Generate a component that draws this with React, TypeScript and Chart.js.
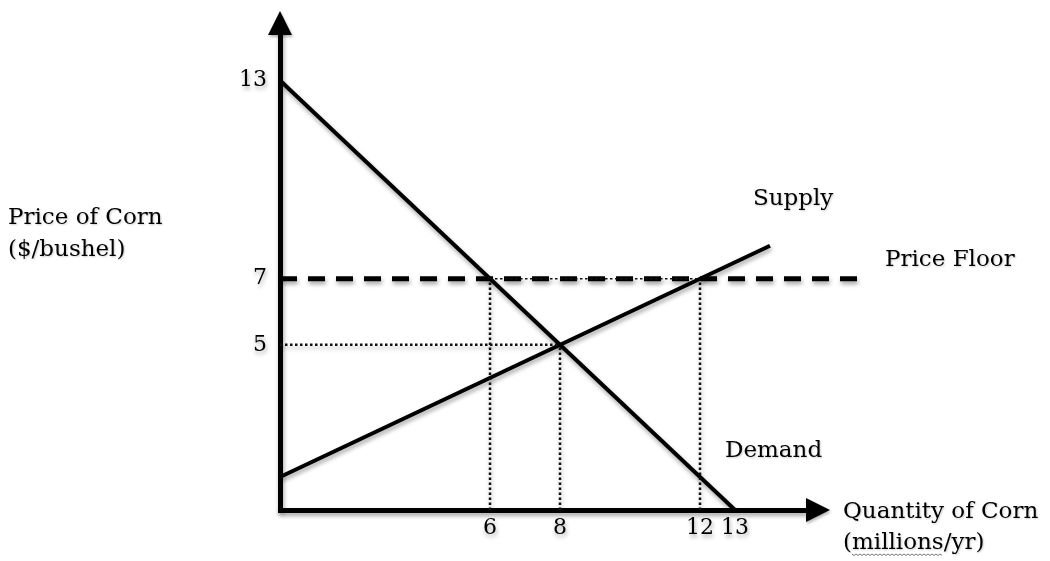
import React, { useEffect, useRef } from "react";
import { Chart, registerables } from "chart.js";

Chart.register(...registerables);

// ---- data ----
const xTickValues = [6, 8, 12, 13];
const yTickValues = [5, 7, 13];
const demandQ = [0, 13];
const demandP = [13, 0];
const supplyQ = [0, 14];
const supplyP = [1, 8];
const floorQ = [0, 16.8];
const floorPrice = 7;
const equilibriumQ = 8;
const equilibriumP = 5;
const quantityDemandedAtFloor = 6;
const quantitySuppliedAtFloor = 12;
const xMax = 15;
const yMax = 14.5;

const FONT = '"DejaVu Serif", serif';

const toPoints = (xs: number[], ys: number[]) => xs.map((x, i) => ({ x, y: ys[i] }));

const guideStyle = {
  borderColor: "#111",
  borderWidth: 2.5,
  borderDash: [2.5, 2.5],
  showLine: true,
  pointRadius: 0,
  fill: false,
};

const shadowPlugin = {
  id: "shadowPlugin",
  beforeDraw(chart: any) {
    const c = chart.ctx;
    c.save();
    c.shadowColor = "rgba(0,0,0,0.35)";
    c.shadowBlur = 4;
    c.shadowOffsetX = 1;
    c.shadowOffsetY = 3;
  },
  afterDatasetsDraw(chart: any) {
    chart.ctx.restore();
  },
};

const annotationPlugin = {
  id: "annotationPlugin",
  afterDraw(chart: any) {
    const c = chart.ctx;
    const xs = chart.scales.x;
    const ys = chart.scales.y;
    const x0 = xs.getPixelForValue(0);
    const y0 = ys.getPixelForValue(0);
    const { top, right } = chart.chartArea;
    c.save();
    c.shadowColor = "rgba(0,0,0,0.3)";
    c.shadowBlur = 3;
    c.shadowOffsetX = 1;
    c.shadowOffsetY = 2;
    c.fillStyle = "#000";
    // y-axis arrow
    c.beginPath();
    c.moveTo(x0, top - 20);
    c.lineTo(x0 - 12, top + 4);
    c.lineTo(x0 + 12, top + 4);
    c.closePath();
    c.fill();
    // x-axis arrow
    c.beginPath();
    c.moveTo(right + 25, y0);
    c.lineTo(right + 1, y0 - 12);
    c.lineTo(right + 1, y0 + 12);
    c.closePath();
    c.fill();

    c.shadowColor = "rgba(0,0,0,0.2)";
    c.shadowBlur = 2;
    c.shadowOffsetX = 1;
    c.shadowOffsetY = 1;
    c.fillStyle = "#000";
    c.font = `23px ${FONT}`;
    c.textAlign = "left";
    c.textBaseline = "alphabetic";
    c.fillText("Price of Corn", 8, 224);
    c.fillText("($/bushel)", 8, 256);
    c.fillText("Supply", 753, 205);
    c.fillText("Price Floor", 885, 266);
    c.fillText("Demand", 725, 457);
    c.fillText("Quantity of Corn", 843, 518);
    c.fillText("(millions/yr)", 843, 549);
    // spell-check style underline under "millions"
    const pw = c.measureText("(").width;
    const mw = c.measureText("millions").width;
    c.shadowColor = "transparent";
    c.strokeStyle = "#777";
    c.lineWidth = 1;
    c.beginPath();
    for (let i = 0; i <= mw; i += 2) {
      const yy = 554 + (i % 4 === 0 ? 0 : 1.5);
      if (i === 0) c.moveTo(843 + pw + i, yy);
      else c.lineTo(843 + pw + i, yy);
    }
    c.stroke();
    c.restore();
  },
};

export default function App() {
  const ref = useRef<HTMLCanvasElement | null>(null);

  useEffect(() => {
    if (!ref.current) return;
    const chart = new Chart(ref.current, {
      type: "scatter",
      data: {
        datasets: [
          {
            label: "Floor Q dotted",
            data: toPoints([quantityDemandedAtFloor, quantitySuppliedAtFloor], [floorPrice, floorPrice]),
            ...guideStyle,
            borderWidth: 1.5,
          },
          {
            label: "Price Floor",
            data: toPoints(floorQ, [floorPrice, floorPrice]),
            borderColor: "#000",
            borderWidth: 5,
            borderDash: [17, 11],
            showLine: true,
            pointRadius: 0,
            clip: false,
          },
          {
            label: "Qd guide",
            data: toPoints([quantityDemandedAtFloor, quantityDemandedAtFloor], [0, floorPrice]),
            ...guideStyle,
          },
          {
            label: "Qs guide",
            data: toPoints([quantitySuppliedAtFloor, quantitySuppliedAtFloor], [0, floorPrice]),
            ...guideStyle,
          },
          {
            label: "Eq Q guide",
            data: toPoints([equilibriumQ, equilibriumQ], [0, equilibriumP]),
            ...guideStyle,
          },
          {
            label: "Eq P guide",
            data: toPoints([0, equilibriumQ], [equilibriumP, equilibriumP]),
            ...guideStyle,
          },
          {
            label: "Demand",
            data: toPoints(demandQ, demandP),
            borderColor: "#000",
            borderWidth: 4,
            showLine: true,
            pointRadius: 0,
          },
          {
            label: "Supply",
            data: toPoints(supplyQ, supplyP),
            borderColor: "#000",
            borderWidth: 4,
            showLine: true,
            pointRadius: 0,
            clip: false,
          },
        ],
      },
      options: {
        animation: false,
        responsive: false,
        maintainAspectRatio: false,
        devicePixelRatio: 1,
        layout: { padding: { left: 0, top: 31, right: 245, bottom: 0 } },
        plugins: {
          legend: { display: false },
          tooltip: { enabled: false },
        },
        scales: {
          x: {
            type: "linear",
            min: 0,
            max: xMax,
            grid: { display: false, drawTicks: false },
            border: { display: true, color: "#000", width: 5 },
            ticks: {
              font: { family: FONT, size: 22 },
              color: "#000",
              padding: 5,
              autoSkip: false,
              maxRotation: 0,
            },
            afterBuildTicks: (s: any) => {
              s.ticks = xTickValues.map((v) => ({ value: v }));
            },
            afterFit: (s: any) => {
              s.height = 51;
            },
          },
          y: {
            type: "linear",
            min: 0,
            max: yMax,
            grid: { display: false, drawTicks: false },
            border: { display: true, color: "#000", width: 5 },
            ticks: {
              font: { family: FONT, size: 22 },
              color: "#000",
              padding: 13,
              autoSkip: false,
            },
            afterBuildTicks: (s: any) => {
              s.ticks = yTickValues.map((v) => ({ value: v }));
            },
            afterFit: (s: any) => {
              s.width = 280;
            },
          },
        },
      },
      plugins: [shadowPlugin, annotationPlugin],
    } as any);
    return () => chart.destroy();
  }, []);

  return (
    <div
      style={{
        position: "fixed",
        left: 0,
        top: 0,
        width: 1050,
        height: 561,
        background: "#fff",
      }}
    >
      <canvas ref={ref} width={1050} height={561} style={{ display: "block" }} />
    </div>
  );
}
